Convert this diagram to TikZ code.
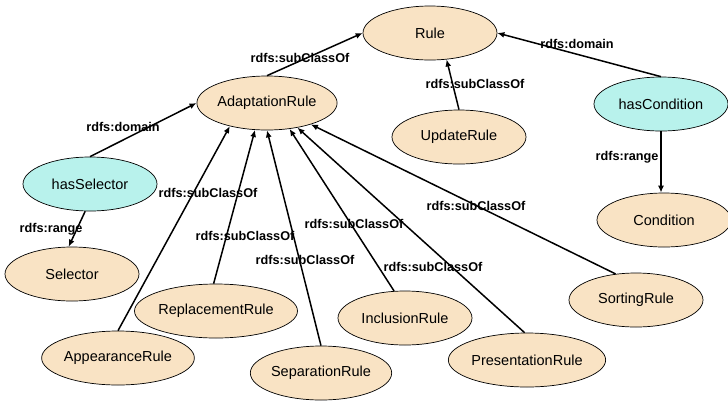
\documentclass[tikz,border=0pt]{standalone}
\usepackage{fontspec}
\setmainfont{Liberation Sans}
\usetikzlibrary{shapes.geometric,arrows.meta}
\definecolor{beige}{RGB}{249,227,196}
\definecolor{aqua}{RGB}{184,242,236}
\begin{document}
\begin{tikzpicture}[x=1pt, y=-1pt, line width=1.5pt, >={Latex[length=7pt,width=6pt]},
		main/.style = {draw, ellipse, line width=0.7pt, fill=beige, minimum width=134pt, minimum height=54pt, inner sep=0pt, font=\fontsize{14.5}{16}\selectfont},
		prop/.style = {main, fill=aqua},
		lbl/.style = {inner sep=0pt, font=\fontsize{12.7}{14}\selectfont\bfseries}]
			\useasboundingbox (0,0) rectangle (728,400);
			\node[main] (rule) at (430,33) {Rule};
			\node[main] (adapt) at (267,103) {AdaptationRule};
			\node[main] (upd) at (459,137) {UpdateRule};
			\node[prop] (hascond) at (661,104) {hasCondition};
			\node[main] (cond) at (664,220) {Condition};
			\node[prop] (hassel) at (90,184) {hasSelector};
			\node[main] (sel) at (72,274) {Selector};
			\node[main] (repl) at (216,311) {ReplacementRule};
			\node[main] (app) at (118,358) {AppearanceRule};
			\node[main] (sep) at (321,373) {SeparationRule};
			\node[main] (incl) at (405,318) {InclusionRule};
			\node[main] (pres) at (527,360) {PresentationRule};
			\node[main] (sort) at (636,300) {SortingRule};
			\draw[->] (adapt.north) -- (rule.west);
			\draw[->] (upd.north) -- (rule.-58);
			\draw[->] (hascond.north) -- (rule.east);
			\draw[->] (hascond.south) -- (hascond.south |- cond.north);
			\draw[->] (hassel.north) -- (adapt.west);
			\draw[->] (hassel.-100) -- (sel.97);
			\draw[->] (app.north) -- (adapt.-148);
			\draw[->] (repl.95) -- (adapt.-114);
			\draw[->] (sep.north) -- (adapt.-90);
			\draw[->] (incl.112) -- (adapt.-49);
			\draw[->] (pres.95) -- (adapt.-39);
			\draw[->] (sort.128) -- (adapt.-26);
			\node[lbl] (l1) at (300,58) {rdfs:subClassOf};
			\node[lbl] (l2) at (475,84) {rdfs:subClassOf};
			\node[lbl] (l3) at (577,44) {rdfs:domain};
			\node[lbl] (l4) at (123,127) {rdfs:domain};
			\node[lbl] (l5) at (51,229) {rdfs:range};
			\node[lbl] (l6) at (627,157) {rdfs:range};
			\node[lbl] (l7) at (208,193) {rdfs:subClassOf};
			\node[lbl] (l8) at (245,236) {rdfs:subClassOf};
			\node[lbl] (l9) at (305,260) {rdfs:subClassOf};
			\node[lbl] (l10) at (354,224) {rdfs:subClassOf};
			\node[lbl] (l11) at (433,267) {rdfs:subClassOf};
			\node[lbl] (l12) at (476,206) {rdfs:subClassOf};
		\end{tikzpicture}
\end{document}
